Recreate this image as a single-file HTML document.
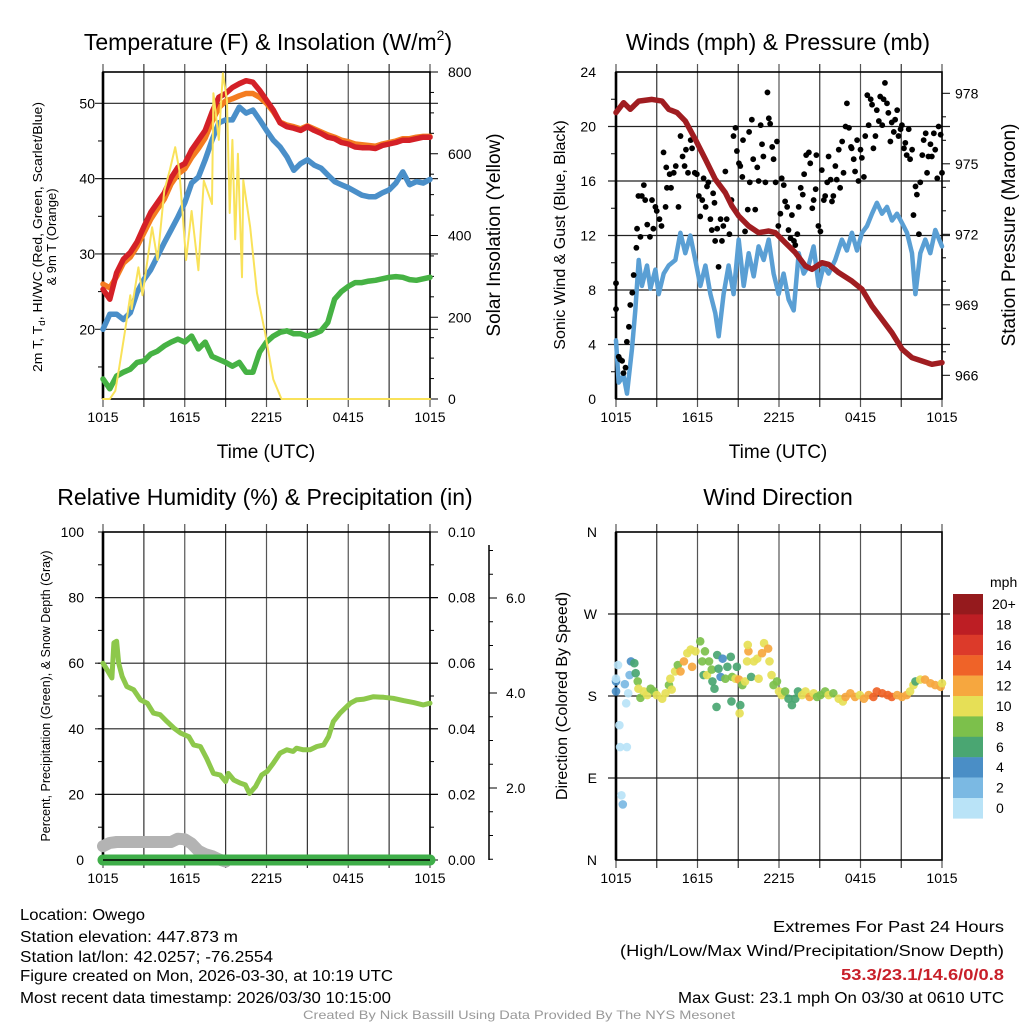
<!DOCTYPE html>
<html><head><meta charset="utf-8"><title>Owego Mesonet Meteogram</title>
<style>
html,body{margin:0;padding:0;background:#fff;}
svg{display:block;font-family:"Liberation Sans",Arial,sans-serif;}
</style></head>
<body>
<svg id="fig" width="1024" height="1024" viewBox="0 0 1024 1024" xmlns="http://www.w3.org/2000/svg">
<rect width="1024" height="1024" fill="#fff"/>
<text x="268" y="50" font-size="23" text-anchor="middle">Temperature (F) &amp; Insolation (W/m<tspan font-size="14" dy="-10">2</tspan><tspan dy="10">)</tspan></text>
<text x="778" y="50" font-size="23" text-anchor="middle">Winds (mph) &amp; Pressure (mb)</text>
<text x="265" y="505" font-size="23" text-anchor="middle">Relative Humidity (%) &amp; Precipitation (in)</text>
<text x="778" y="505" font-size="23" text-anchor="middle">Wind Direction</text>

<text x="266" y="458" font-size="19" text-anchor="middle">Time (UTC)</text>
<text x="778" y="458" font-size="19" text-anchor="middle">Time (UTC)</text>

<text transform="translate(42,237) rotate(-90)" font-size="13" text-anchor="middle" textLength="270" lengthAdjust="spacingAndGlyphs">2m T, T<tspan font-size="9" dy="3">d</tspan><tspan dy="-3">, HI/WC (Red, Green, Scarlet/Blue)</tspan></text>
<text transform="translate(56,237) rotate(-90)" font-size="13" text-anchor="middle">&amp; 9m T (Orange)</text>
<text transform="translate(500,235) rotate(-90)" font-size="19" text-anchor="middle">Solar Insolation (Yellow)</text>
<text transform="translate(565,235) rotate(-90)" font-size="16" text-anchor="middle">Sonic Wind &amp; Gust (Blue, Black)</text>
<text transform="translate(1015,235) rotate(-90)" font-size="19" text-anchor="middle">Station Pressure (Maroon)</text>
<text transform="translate(50,696) rotate(-90)" font-size="12.5" text-anchor="middle">Percent, Precipitation (Green), &amp; Snow Depth (Gray)</text>
<text transform="translate(567,696) rotate(-90)" font-size="16" text-anchor="middle">Direction (Colored By Speed)</text>

<g id="p1"></g>
<g id="p2"></g>
<g id="p3"></g>
<g id="p4"></g>
<g id="cbar"></g>

<g font-size="15.5">
<text x="20" y="920" textLength="125" lengthAdjust="spacingAndGlyphs">Location: Owego</text>
<text x="20" y="942" textLength="218" lengthAdjust="spacingAndGlyphs">Station elevation: 447.873 m</text>
<text x="20" y="962" textLength="253" lengthAdjust="spacingAndGlyphs">Station lat/lon: 42.0257; -76.2554</text>
<text x="20" y="981" textLength="373" lengthAdjust="spacingAndGlyphs">Figure created on Mon, 2026-03-30, at 10:19 UTC</text>
<text x="20" y="1003" textLength="371" lengthAdjust="spacingAndGlyphs">Most recent data timestamp: 2026/03/30 10:15:00</text>
</g>
<g font-size="15.5" text-anchor="end">
<text x="1004" y="932" textLength="231" lengthAdjust="spacingAndGlyphs">Extremes For Past 24 Hours</text>
<text x="1004" y="956" textLength="384" lengthAdjust="spacingAndGlyphs">(High/Low/Max Wind/Precipitation/Snow Depth)</text>
<text x="1004" y="980" font-weight="bold" fill="#c8202a" textLength="163" lengthAdjust="spacingAndGlyphs">53.3/23.1/14.6/0/0.8</text>
<text x="1004" y="1003" textLength="326" lengthAdjust="spacingAndGlyphs">Max Gust: 23.1 mph On 03/30 at 0610 UTC</text>
</g>
<text x="519" y="1019" font-size="12" fill="#999" text-anchor="middle" textLength="432" lengthAdjust="spacingAndGlyphs">Created By Nick Bassill Using Data Provided By The NYS Mesonet</text>
</svg>
<script>
// ---------- Data ----------
const timeTickLabels = ["1015","1615","2215","0415","1015"];
const tempStepHours = 0.5;
const tempRed = [25.3,24,27.5,29.3,30.2,31.6,33.6,35.5,36.8,38.1,40.1,41.5,42,43.8,45.1,46.4,48.8,50.8,51.3,52.1,52.6,53,52.8,51.7,50.4,49.1,47.4,46.9,46.7,46.4,46.9,46.4,46,45.5,45.3,44.8,44.6,44.2,44.1,44.1,44,44.4,44.6,44.8,45.1,45.1,45.3,45.5,45.5];
const tempOrange = [26,25.5,27,28.8,29.6,31,32.8,34.6,36,37.3,39.3,40.6,41.3,42.8,44,45.4,47.6,49.4,50.3,50.6,51,51.3,51.3,50.8,50,48.9,47.5,47.1,46.9,46.6,47,46.6,46.2,45.8,45.5,45.1,44.9,44.6,44.5,44.4,44.3,44.6,44.8,45,45.3,45.3,45.5,45.6,45.6];
const tempBlue = [20,22,22,21.3,22.2,24.9,26.6,27.9,29.7,31.5,33.2,34.9,36.8,39.4,40.2,42.5,45.1,47.4,47.8,47.8,49.5,48.7,49.1,47.8,46.4,45.1,44.2,42.9,41.1,42,42.5,41.8,41.4,40.5,39.6,39.2,38.8,38.3,37.8,37.6,37.6,38.1,38.5,39.4,40.9,39.2,39.6,39.4,39.9];
const tempGreen = [13.4,12.1,13.8,14.3,14.7,15.6,15.8,16.7,17.1,17.8,18.3,18.7,18.3,19.1,17.4,18.3,16.4,16,15.6,15.1,15.6,14.3,14.3,17,18.3,19.1,19.6,19.8,19.4,19.4,19.1,19.4,19.8,20.9,24,25,25.7,26.2,26.2,26.4,26.5,26.7,26.9,27,26.9,26.6,26.5,26.7,26.9];
const solarHours = [0,0.5,0.9,1.2,1.6,2.0,2.1,2.6,2.9,3.6,4.0,4.5,4.9,5.3,5.6,6.1,6.5,7.0,7.4,8.0,8.1,8.5,8.8,9.1,9.3,9.5,9.7,9.9,10.2,10.3,10.8,11.3,11.9,12.5,13.1,24];
const solarVals  = [0,0,20,78,163,254,220,322,254,420,340,510,560,616,560,340,460,315,534,477,748,634,797,730,455,634,391,600,298,535,420,259,162,48,0,0];

const pressHours = [0,0.56,1.05,1.67,2.65,3.39,3.88,4.49,5.1,5.84,6.58,7.31,8.05,8.54,9.03,9.77,10.5,11.24,11.73,12.47,13.2,13.94,14.43,15.16,15.65,16.39,17.37,18.11,18.85,19.58,20.32,21.06,21.79,22.53,23.26,24];
const pressVals  = [977.18,977.6,977.32,977.67,977.74,977.67,977.32,977.18,976.82,976.04,975.19,974.34,973.77,973.2,972.78,972.35,972.07,972.14,972.07,971.64,971.22,970.65,970.51,970.79,970.72,970.37,970.01,969.66,968.95,968.38,967.81,967.11,966.75,966.61,966.47,966.54];
const windHours = [0,0.2,0.56,0.81,1.18,1.42,1.67,1.91,2.28,2.53,2.9,3.14,3.51,3.88,4.37,4.74,5.1,5.47,5.84,6.21,6.58,6.95,7.31,7.56,7.92,8.29,8.66,9.03,9.4,9.77,10.14,10.5,10.87,11.24,11.6,11.97,12.34,12.71,13.08,13.45,13.82,14.18,14.55,14.92,15.29,15.65,16.14,16.63,17.0,17.37,17.74,18.11,18.48,18.85,19.21,19.58,19.95,20.32,20.69,21.06,21.42,21.79,22.04,22.4,22.77,23.14,23.51,24];
const windVals  = [4.3,1.2,1.7,0.4,3.7,6.5,10.2,8.3,9.8,8.1,9.5,7.7,9.2,9.8,10.2,12.2,10.7,12.0,10.2,8.3,9.8,7.7,6.3,4.6,7.7,9.8,7.7,11.7,8.3,10.7,9.0,11.2,10.2,11.7,9.2,7.7,9.2,7.3,6.5,10.7,9.2,9.8,11.2,8.3,9.8,9.2,10.2,11.7,10.9,12.2,10.9,12.2,12.7,13.6,14.4,13.6,14.1,13.1,13.6,12.9,12.2,10.7,7.7,10.7,11.7,10.7,12.4,11.2];
const gustHours = [0,0,0.2,0.3,0.45,0.55,0.7,0.8,0.95,1.05,1.2,1.3,1.5,1.55,1.65,1.8,1.9,2.05,2.15,2.3,2.5,2.65,2.75,2.9,3.0,3.2,3.35,3.5,3.65,3.7,3.75,3.95,4.05,4.25,4.4,4.6,4.75,4.9,5.05,5.15,5.3,5.5,5.6,5.8,5.95,6.1,6.2,6.35,6.45,6.6,6.7,6.8,6.95,7.05,7.15,7.25,7.3,7.45,7.55,7.7,7.8,7.9,8.05,8.15,8.35,8.5,8.65,8.8,8.9,9.05,9.15,9.3,9.35,9.5,9.7,9.8,9.85,10.0,10.1,10.25,10.4,10.5,10.65,10.75,10.85,11.0,11.15,11.25,11.35,11.5,11.6,11.75,11.85,11.95,12.1,12.2,12.35,12.45,12.6,12.7,12.85,12.95,13.1,13.2,13.35,13.45,13.6,13.75,13.85,14.0,14.2,14.3,14.45,14.55,14.7,14.75,14.9,15.05,15.15,15.3,15.4,15.55,15.65,15.8,15.9,16.0,16.15,16.25,16.4,16.5,16.65,16.75,16.9,17.0,17.15,17.3,17.35,17.5,17.6,17.75,17.85,18.0,18.1,18.25,18.35,18.5,18.6,18.75,18.85,18.95,19.1,19.2,19.35,19.45,19.6,19.7,19.8,19.95,20.05,20.2,20.3,20.45,20.55,20.7,20.8,20.95,21.05,21.2,21.3,21.4,21.55,21.65,21.8,21.9,22.05,22.15,22.3,22.4,22.55,22.65,22.8,22.9,23.0,23.15,23.25,23.4,23.5,23.65,23.75,23.9,24.0];
const gustVals  = [6.6,8.5,3.1,2.9,2.8,1.9,2.3,4.2,5.3,6.9,7.8,9.1,11.1,12.5,14.9,11.9,14.9,15.7,14.6,12.8,11.9,14.6,12.5,14.1,13.8,13.2,12.7,18.1,14.1,17,15.5,16.5,15.5,16.6,17.1,14.1,19.3,17.8,17.1,18.3,16.6,19.0,18.4,16.6,16.5,14.9,13.4,14.6,16.2,14.1,15.6,15.9,13.2,12.4,15.1,14.4,11.6,12.5,9.7,13.2,11.6,12.7,16.7,13.2,12.1,14.6,19.3,19.9,18.2,17.3,17.1,16.3,19.0,12.3,13.9,19.6,15.9,20.5,17.6,13.9,17.0,16.0,20.1,18.7,17.8,15.9,22.5,20.6,20.2,18.5,17.6,15.9,18.9,12.7,13.6,16.2,15.7,14.5,14.1,12.4,11.8,13.5,11.6,11.3,12.1,14.1,15.5,15.0,16.5,17.9,18.1,17.3,14.0,14.6,15.4,17.9,12.7,12.3,16.8,14.6,14.9,15.9,17.8,16.1,14.5,14.9,17.1,16.1,18.3,15.5,18.9,16.6,20.0,21.7,19.9,18.5,18.4,17.6,16.7,19.0,16.0,18.3,17.7,16.3,19.3,22.3,20.1,22.0,21.6,18.4,19.3,21.2,20.4,22.2,20.1,22.0,23.2,21.7,21.0,18.9,20.3,19.6,20.5,21.2,19.3,19.8,20.1,18.4,18.8,17.9,19.8,17.6,18.3,13.5,15.6,15.0,12.1,15.9,17.9,19.0,19.5,16.6,17.8,18.7,17.8,19.5,18.3,16.2,20.0,19.4,16.6];

const rhHours = [0,0.3,0.65,0.8,1.0,1.15,1.4,1.75,2.25,2.75,3.25,3.7,4.2,4.7,5.2,5.7,6.3,6.65,7.15,7.6,8.1,8.6,9.0,9.2,9.6,10.1,10.45,10.75,11.2,11.65,12.05,12.5,13.0,13.5,13.95,14.2,14.7,15.2,15.7,16.2,16.55,16.9,17.4,18.15,18.6,19.1,19.85,20.6,21.3,22.05,22.8,23.5,24];
const rhVals  = [60,58,55.5,66.2,66.7,60,56,52.9,51.9,48.8,47.8,44.8,44.3,42.2,40.2,38.7,37.6,35.1,34.6,31,26.4,25.9,23.9,26.4,24.4,23.4,22.9,20.3,22.4,25.9,27,29.5,32.6,33.6,33.1,34.1,33.6,33.6,34.6,35.1,37.6,42.2,44.8,47.8,48.8,49,49.8,49.6,49.3,48.6,48,47.3,47.8];
const precipHours = [0,24];
const precipVals = [0,0];
const snowHours = [0,0.5,1.0,3.0,5.0,5.5,6.0,6.5,7.0,7.5,8.0,8.5,9.0];
const snowVals  = [4.2,5.2,5.5,5.5,5.5,6.5,6.3,5.0,2.8,1.8,1.2,0.2,-0.5];

const dirHours = [0,0,0.15,0,0.65,0.9,0.75,0.25,0.3,0.8,0.4,0.5,1.0,1.1,1.35,1.45,1.6,1.65,1.8,2.05,2.3,2.55,2.8,3.0,3.4,3.65,3.9,4.1,4.0,4.35,4.55,4.75,5.0,5.25,5.5,5.6,5.85,6.2,6.35,6.55,6.45,6.7,6.85,7.05,7.1,7.25,7.45,7.55,7.7,7.85,8.05,8.2,8.45,8.55,8.8,8.9,9.05,9.15,9.1,8.5,7.4,9.3,9.5,9.65,9.75,9.7,9.95,10.15,10.4,10.5,10.75,10.9,11.2,11.3,11.45,11.6,11.85,12.0,12.2,12.45,12.7,12.95,13.2,13.4,13.7,13.95,14.25,14.55,14.8,15.05,15.4,15.65,16.0,16.4,16.7,16.9,17.25,17.6,17.95,18.25,18.6,18.95,19.2,19.6,20.0,20.3,20.7,21.05,21.4,21.65,21.9,22.05,22.4,22.75,23.15,23.5,23.9,24];
const dirVals  = [196,185,214,199,193,183,172,148,124,124,71,61,203,218,216,205,196,188,178,185,181,188,185,181,177,183,192,187,199,207,214,207,218,227,231,212,229,240,218,229,203,203,218,209,196,188,225,210,201,221,199,212,223,201,199,212,198,170,161,174,168,192,196,218,229,236,201,218,221,199,227,238,232,218,203,192,196,185,181,185,177,170,177,185,181,185,179,183,179,181,185,181,183,177,174,179,183,179,181,177,181,179,185,183,181,179,181,179,181,185,192,196,198,198,194,192,190,194];
const dirSpeeds = [4,4,1,1,2,1,0,0,0,0,0,2,2,4,6,7,8,10,8,10,10,8,8,10,10,10,8,10,10,10,8,12,12,10,10,12,10,8,8,8,7,10,8,8,7,6,6,6,5,4,8,6,6,8,10,6,12,6,10,6,7,8,10,10,12,10,6,10,10,10,12,10,12,10,10,8,8,10,10,8,7,6,6,6,10,10,12,10,8,8,8,10,8,10,10,12,12,12,10,12,13,14,14,14,14,14,13,12,12,10,10,7,10,12,12,12,12,10];
const speedLabels = ["20+","18","16","14","12","10","8","6","4","2","0"];
const speedColors = ["#951a1d","#bd1e24","#dc3a2a","#ef6328","#f6a73f","#e6df56","#7cc04b","#4aa672","#4a8ec6","#7bb9e3","#b9e3f7"];

// ---------- Helpers ----------
const NS = "http://www.w3.org/2000/svg";
function mk(parent, tag, attrs) {
  const e = document.createElementNS(NS, tag);
  for (const k in attrs) e.setAttribute(k, attrs[k]);
  parent.appendChild(e);
  return e;
}
function pathD(xs, ys) { return xs.map((x,i)=>(i?"L":"M")+x.toFixed(1)+","+ys[i].toFixed(1)).join(""); }

const L = 103, R = 430, L2 = 616, R2 = 942;
const xA = h => L + h/24*(R-L);
const xB = h => L2 + h/24*(R2-L2);
const yTemp = v => 103.3 + (50 - v)*7.533;
const ySolar = v => 399 - v*(327/800);
const yWind = v => 399 - v*(327/24);
const yPress = v => 93.3 + (978 - v)*23.5;
const yRH = v => 860 - v*3.28;
const yPrecip = v => 860 - v*3280;
const yDir = d => 860 - d*328/360;

function frame(g, x0, x1, y0, y1, hLines, name) {
  const gg = mk(g, "g", {stroke:"#222","stroke-width":1.2});
  
  
  for (let k=0;k<=8;k++){
    const x = x0 + k*(x1-x0)/8;
    const ln = mk(gg,"line",{x1:x,x2:x,y1:y0-8,y2:y1+8, stroke: (k%2? "#333":"#555")});
    
    
  }
  hLines.forEach(y=>{
    const ln = mk(gg,"line",{x1:x0-8,x2:x1+8,y1:y,y2:y});
    
    
  });
  const b = mk(gg,"rect",{x:x0,y:y0,width:x1-x0,height:y1-y0,fill:"none","stroke-width":1.6,stroke:"#000"});
  
  
  const la = mk(gg,"line",{x1:x0,x2:x0,y1:y0,y2:y1,stroke:"#000","stroke-width":2.6});
  
  
}
function xTicks(g, x0, x1, y) {
  timeTickLabels.forEach((t,i)=>{
    const tx = mk(g,"text",{x:x0+i*(x1-x0)/4,y:y,"font-size":14,"text-anchor":"middle"});
    tx.textContent = t;
    
    
  });
}
function yLabel(g, x, y, txt, anchor, size) {
  const tx = mk(g,"text",{x:x,y:y+5,"font-size":size||14,"text-anchor":anchor});
  tx.textContent = txt;
  
  
}
function rTick(g, x, y, len) {
  const t = mk(g,"line",{x1:x,x2:x+len,y1:y,y2:y,stroke:"#000","stroke-width":1});
  
  
}
function line(g, xs, ys, color, w, name) {
  const p = mk(g,"path",{d:pathD(xs,ys),fill:"none",stroke:color,"stroke-width":w,"stroke-linejoin":"round","stroke-linecap":"round"});
  
  
  return p;
}

// ---------- Panel 1: Temperature ----------
const p1 = document.getElementById("p1");
frame(p1, L, R, 72, 399, [20,30,40,50].map(yTemp), "temperature");
[15,25,35,45].forEach(v=>rTick(p1, L-5, yTemp(v), 5));
[20,30,40,50].forEach(v=>yLabel(p1, 95, yTemp(v), String(v), "end"));
for (let v=0; v<=800; v+=50) rTick(p1, R, ySolar(v), v%200===0?8:4);
[0,200,400,600,800].forEach(v=>yLabel(p1, 448, ySolar(v), String(v), "start"));
xTicks(p1, L, R, 422);
const tIdx = tempRed.map((_,i)=>xA(i*tempStepHours));
line(p1, tIdx, tempGreen.map(yTemp), "#46b244", 5.5, "dewpoint-line");
line(p1, tIdx, tempBlue.map(yTemp), "#4a8fc9", 5.5, "heat-index-windchill-line");
line(p1, tIdx, tempOrange.map(yTemp), "#f47c20", 5.5, "temperature-9m-line");
line(p1, tIdx, tempRed.map(yTemp), "#d42027", 5.5, "temperature-2m-line");
line(p1, solarHours.map(xA), solarVals.map(ySolar), "#f9e25a", 2, "solar-insolation-line");

// ---------- Panel 2: Winds ----------
const p2 = document.getElementById("p2");
frame(p2, L2, R2, 72, 399, [4,8,12,16,20].map(yWind), "winds");
[2,6,10,14,18,22].forEach(v=>rTick(p2, L2-5, yWind(v), 5));
[0,4,8,12,16,20,24].forEach(v=>yLabel(p2, 596, yWind(v), String(v), "end"));
for (let v=966; v<=978; v+=1) rTick(p2, R2, yPress(v), v%3===0?8:4);
[966,969,972,975,978].forEach(v=>yLabel(p2, 955, yPress(v), String(v), "start"));
xTicks(p2, L2, R2, 422);
line(p2, windHours.map(xB), windVals.map(yWind), "#5a9fd4", 4.5, "sonic-wind-line");
const gg = mk(p2,"g",{fill:"#000"});


gustHours.forEach((h,i)=>{
  const c = mk(gg,"circle",{cx:xB(h),cy:yWind(gustVals[i]),r:2.9});
  
  
});
line(p2, pressHours.map(xB), pressVals.map(yPress), "#a01d21", 5.5, "station-pressure-line");

// ---------- Panel 3: Humidity ----------
const p3 = document.getElementById("p3");
frame(p3, L, R, 532, 860, [20,40,60,80].map(yRH), "humidity");
for (let v=0; v<=100; v+=10) { const t=mk(p3,"line",{x1:L-5,x2:L,y1:yRH(v),y2:yRH(v),stroke:"#000"});   }
[0,20,40,60,80,100].forEach(v=>yLabel(p3, 84, yRH(v), String(v), "end"));
for (let v=0; v<=10; v+=1) rTick(p3, R, yPrecip(v/100), v%2===0?8:4);
[0,0.02,0.04,0.06,0.08,0.10].forEach(v=>yLabel(p3, 448, yPrecip(v), v.toFixed(2), "start"));
const sa = mk(p3,"line",{x1:489,x2:489,y1:545,y2:860,stroke:"#000","stroke-width":1.5});


const ySnowAx = v => 883 - v*47.5;
for (let v=0.5; v<=7; v+=0.5) { if (ySnowAx(v) < 545) break; const t=mk(p3,"line",{x1:489,x2:v%2===0?497:493,y1:ySnowAx(v),y2:ySnowAx(v),stroke:"#000"});   }
[2,4,6].forEach(v=>yLabel(p3, 506, ySnowAx(v), v.toFixed(1), "start"));
xTicks(p3, L, R, 883);
line(p3, snowHours.map(xA), snowVals.map(yRH), "#b3b3b3", 12, "snow-depth-line");
line(p3, precipHours.map(xA), precipVals.map(yPrecip), "#3fae49", 11, "precipitation-line");
const pb = mk(p3,"line",{x1:L,x2:R,y1:860,y2:860,stroke:"#000","stroke-width":1.6});


line(p3, rhHours.map(xA), rhVals.map(yRH), "#8dc84b", 5, "relative-humidity-line");

// ---------- Panel 4: Wind direction ----------
const p4 = document.getElementById("p4");
frame(p4, L2, R2, 532, 860, [90,180,270].map(yDir), "direction");
[["N",0],["E",90],["S",180],["W",270],["N",360]].forEach(d=>yLabel(p4, 597, yDir(d[1]), d[0], "end"));
xTicks(p4, L2, R2, 883);
dirHours.forEach((h,i)=>{
  const idx = 10 - Math.min(10, Math.floor(dirSpeeds[i]/2));
  const c = mk(p4,"circle",{cx:xB(h),cy:yDir(dirVals[i]),r:4.3,fill:speedColors[idx],"fill-opacity":0.92});
  
  
});

// ---------- Colorbar ----------
const cb = document.getElementById("cbar");
const cbT = mk(cb,"text",{x:990,y:587,"font-size":14});
cbT.textContent = "mph";


speedLabels.forEach((lab,i)=>{
  const y = 594 + i*20.4;
  const r = mk(cb,"rect",{x:953,y:y,width:30,height:20.6,fill:speedColors[i]});
  
  
  const t = mk(cb,"text",{x:lab.length>2?992:996,y:y+15,"font-size":14});
  t.textContent = lab;
  
  
});
</script>
</body></html>
